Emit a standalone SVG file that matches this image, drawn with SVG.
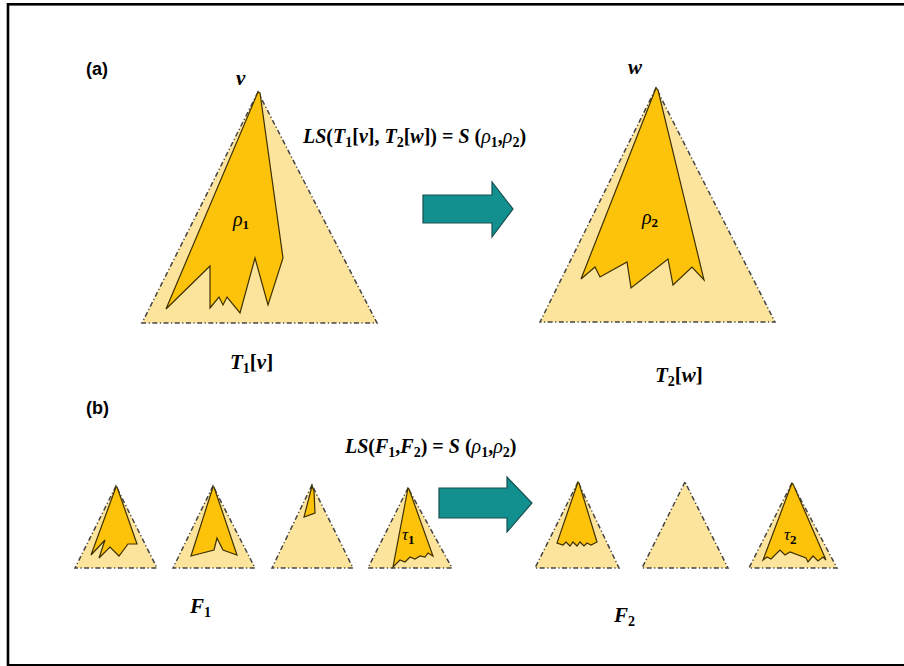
<svg xmlns="http://www.w3.org/2000/svg" width="904" height="666" viewBox="0 0 904 666">
<defs>
<style>
.outer{fill:#fde49c;stroke:#444;stroke-width:1.5;stroke-dasharray:5,2.5,1.2,2.5}
.inner{fill:#fcc30a;stroke:#3d3000;stroke-width:1.2;stroke-linejoin:miter}
.arrow{fill:#12908f;stroke:#164f4f;stroke-width:1.2}
.m{font-family:"Liberation Serif",serif;font-weight:bold;font-style:italic;fill:#000}
.lab{font-family:"Liberation Sans",Arial,sans-serif;font-weight:bold;font-size:18px;fill:#000}
.rho{font-family:"Liberation Serif",serif;font-style:italic;font-weight:normal}
.sub{font-style:normal;font-weight:bold}
</style>
</defs>
<rect width="904" height="666" fill="#fff"/>
<rect x="8" y="4.3" width="910" height="661" fill="none" stroke="#000" stroke-width="2.6"/>

<text class="lab" x="86" y="75">(a)</text>
<text class="lab" x="86" y="414">(b)</text>

<g id="tree-T1">
<polygon class="outer" points="258,92 142,323 377,323"/>
<polygon class="inner" points="258,92 166,309 210,266 210,308 219,297 223,305 227,297 240,313 255,258 268,305 283,258 260,93"/>
<text class="m" x="236" y="85" font-size="21">v</text>
<text class="m" x="233" y="226" font-size="20"><tspan class="rho">ρ</tspan><tspan class="sub" font-size="13" dy="3">1</tspan></text>
<text class="m" x="230" y="369" font-size="21">T<tspan class="sub" font-size="14" dy="4">1</tspan><tspan dy="-4" font-style="normal">[</tspan>v<tspan font-style="normal">]</tspan></text>
</g>

<g id="tree-T2">
<polygon class="outer" points="656,88 540,322 775,322"/>
<polygon class="inner" points="656,88 581,279 595,267 600,277 627,262 631,288 668,259 673,285 692,267 704,280 658,90"/>
<text class="m" x="628" y="74" font-size="21">w</text>
<text class="m" x="642" y="224" font-size="20"><tspan class="rho">ρ</tspan><tspan class="sub" font-size="13" dy="3">2</tspan></text>
<text class="m" x="655" y="382" font-size="21">T<tspan class="sub" font-size="14" dy="4">2</tspan><tspan dy="-4" font-style="normal">[</tspan>w<tspan font-style="normal">]</tspan></text>
</g>

<text class="m" x="303" y="143" font-size="20">LS<tspan font-style="normal">(</tspan>T<tspan class="sub" font-size="14" dy="4">1</tspan><tspan dy="-4" font-style="normal">[</tspan>v<tspan font-style="normal">], </tspan>T<tspan class="sub" font-size="14" dy="4">2</tspan><tspan dy="-4" font-style="normal">[</tspan>w<tspan font-style="normal">]) = </tspan>S <tspan font-style="normal">(</tspan><tspan class="rho">ρ</tspan><tspan class="sub" font-size="14" dy="4">1</tspan><tspan dy="-4" font-style="normal">,</tspan><tspan class="rho">ρ</tspan><tspan class="sub" font-size="14" dy="4">2</tspan><tspan dy="-4" font-style="normal">)</tspan></text>

<text class="m" x="345" y="453" font-size="20">LS<tspan font-style="normal">(</tspan>F<tspan class="sub" font-size="14" dy="4">1</tspan><tspan dy="-4" font-style="normal">,</tspan>F<tspan class="sub" font-size="14" dy="4">2</tspan><tspan dy="-4" font-style="normal">) = </tspan>S <tspan font-style="normal">(</tspan><tspan class="rho">ρ</tspan><tspan class="sub" font-size="14" dy="4">1</tspan><tspan dy="-4" font-style="normal">,</tspan><tspan class="rho">ρ</tspan><tspan class="sub" font-size="14" dy="4">2</tspan><tspan dy="-4" font-style="normal">)</tspan></text>

<g id="forest-F1-t1">
<polygon class="outer" points="116,486 75,568 157,568"/>
<polygon class="inner" points="116,487 91,555 105,540 99,558 110,547 119,556 128,544 137,544 117,487"/>
</g>
<g id="forest-F1-t2">
<polygon class="outer" points="213,486 173,568 255,568"/>
<polygon class="inner" points="213,487 191,556 214,550 217,538 223,550 237,555 214,487"/>
</g>
<g id="forest-F1-t3">
<polygon class="outer" points="312,485 272,568 353,568"/>
<polygon class="inner" points="312,486 304,517 315,513 314,491"/>
</g>
<g id="forest-F1-t4">
<polygon class="outer" points="408,488 368,568 452,568"/>
<polygon class="inner" points="408,488 393,567 400,560 405,562 410,557 415,559 420,556 425,557 428,553 433,556 409,489"/>
<text class="m" x="402" y="540" font-size="17"><tspan class="rho">τ</tspan><tspan class="sub" font-size="13" dy="4">1</tspan></text>
</g>
<text class="m" x="190" y="613" font-size="21">F<tspan class="sub" font-size="14" dy="4">1</tspan></text>

<g id="forest-F2-t1">
<polygon class="outer" points="578,482 535,568 619,568"/>
<polygon class="inner" points="578,482 557,543 563,545 566,542 570,546 573,542 577,546 580,542 584,546 587,543 591,545 597,542 579,483"/>
</g>
<g id="forest-F2-t2">
<polygon class="outer" points="685,482 642,568 728,568"/>
</g>
<g id="forest-F2-t3">
<polygon class="outer" points="792,483 749,568 837,568"/>
<polygon class="inner" points="792,483 763,560 767,557 771,559 780,550 785,555 790,552 806,558 808,562 813,556 818,561 823,557 826,560 793,484"/>
<text class="m" x="784" y="540" font-size="17"><tspan class="rho">τ</tspan><tspan class="sub" font-size="13" dy="4">2</tspan></text>
</g>
<text class="m" x="614" y="622" font-size="21">F<tspan class="sub" font-size="14" dy="4">2</tspan></text>

<g id="connectors">
<polygon class="arrow" points="423,195 492,195 492,182 513,209 492,237 492,223 423,223"/>
<polygon class="arrow" points="439,488 507,488 507,477 532,503 507,532 507,518 439,518"/>
</g>
</svg>
